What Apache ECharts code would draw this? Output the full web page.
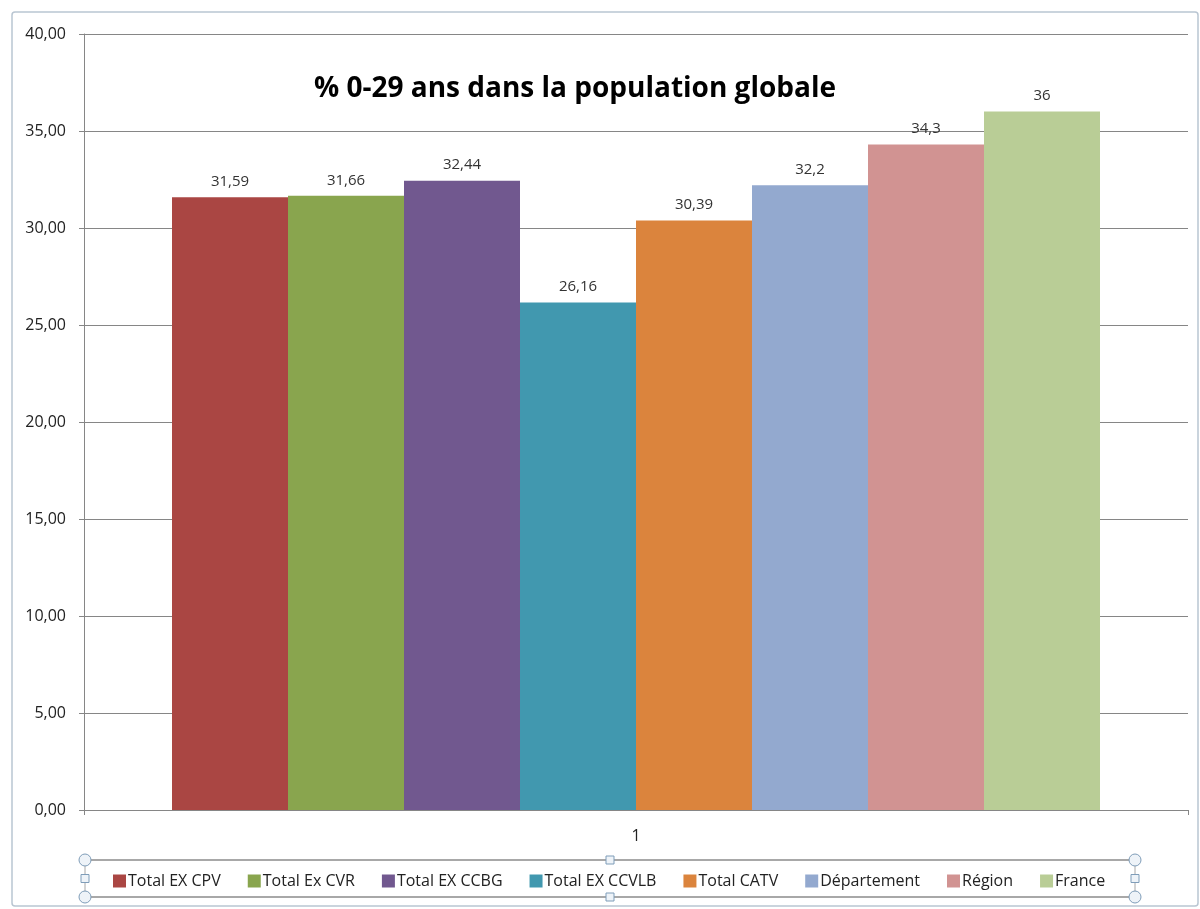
<!DOCTYPE html>
<html><head><meta charset="utf-8">
<script src="https://cdn.jsdelivr.net/npm/echarts@6/dist/echarts.min.js"></script>
<style>html,body{margin:0;padding:0;background:#fff}#c{width:1200px;height:909px}</style>
</head><body><div id="c"></div>
<script>
const titleText = '% 0-29 ans dans la population globale';
const categories = ['1'];
const seriesNames = ['Total EX CPV','Total Ex CVR','Total EX CCBG','Total EX CCVLB','Total CATV','Département','Région','France'];
const seriesValues = [31.59, 31.66, 32.44, 26.16, 30.39, 32.2, 34.3, 36];
const seriesColors = ['#AA4643','#89A54E','#71588F','#4198AF','#DB843D','#93A9CF','#D19392','#B9CD96'];
const yMin = 0, yMax = 40, yStep = 5;

const FONT = '"Open Sans", sans-serif';
const fmt = v => String(v).replace('.', ',');

const chart = echarts.init(document.getElementById('c'), null, {renderer:'canvas'});
const series = seriesNames.map((n,i)=>({
  name:n, type:'bar', data:[seriesValues[i]], barWidth:116, barGap:'0%',
  itemStyle:{color:seriesColors[i]},
  label:{show:true, position:'top', distance:8, color:'#333', fontFamily:FONT, fontSize:15,
    formatter:p=>fmt(p.value)}
}));

const lx0 = 85, lx1 = 1135, ly0 = 860, ly1 = 897, lym = (ly0+ly1)/2, lxm = (lx0+lx1)/2;
const handleStroke = '#7f9db9';
const circ = (x,y)=>({type:'circle', shape:{cx:x, cy:y, r:6}, style:{fill:'#eef3f8', stroke:handleStroke, lineWidth:1}, z:10});
const sq = (x,y)=>({type:'rect', shape:{x:x-4, y:y-4, width:8, height:8}, style:{fill:'#eef3f8', stroke:handleStroke, lineWidth:1}, z:10});

chart.setOption({
  animation:false,
  backgroundColor:'#fff',
  title:{text:titleText, left:570, top:70, textAlign:'center',
    textStyle:{fontFamily:FONT, fontSize:28, fontWeight:'bold', color:'#000'}},
  grid:{left:84, right:12, top:34, bottom:99, containLabel:false},
  legend:{data:seriesNames, left:108, top:868, itemWidth:13, itemHeight:13, itemGap:27,
    icon:'rect', textStyle:{fontFamily:FONT, fontSize:16, color:'#222', padding:[0,0,0,-3]}},
  xAxis:{type:'category', data:categories,
    axisLine:{lineStyle:{color:'#868686'}},
    axisTick:{show:true, length:5, lineStyle:{color:'#868686'}},
    axisLabel:{fontFamily:FONT, fontSize:16, color:'#222', margin:18}},
  yAxis:{type:'value', min:yMin, max:yMax, interval:yStep,
    axisLine:{show:true, lineStyle:{color:'#868686'}},
    axisTick:{show:true, length:5, lineStyle:{color:'#868686'}},
    splitLine:{lineStyle:{color:'#868686'}},
    axisLabel:{fontFamily:FONT, fontSize:16, color:'#222', margin:18,
      formatter:v=>v.toFixed(2).replace('.', ',')}},
  graphic:[
    {type:'rect', shape:{x:12, y:12, width:1186, height:894, r:3}, style:{fill:'none', stroke:'#b9c6d2', lineWidth:1.5}, z:-1},
    {type:'line', shape:{x1:lx0, y1:ly0, x2:lx1, y2:ly0}, style:{stroke:'#a8a8a8', lineWidth:2}},
    {type:'line', shape:{x1:lx0, y1:ly1, x2:lx1, y2:ly1}, style:{stroke:'#a8a8a8', lineWidth:2}},
    {type:'line', shape:{x1:lx0, y1:ly0, x2:lx0, y2:ly1}, style:{stroke:'#a8a8a8', lineWidth:1}},
    {type:'line', shape:{x1:lx1, y1:ly0, x2:lx1, y2:ly1}, style:{stroke:'#a8a8a8', lineWidth:1}},
    circ(lx0,ly0), circ(lx1,ly0), circ(lx0,ly1), circ(lx1,ly1),
    sq(lxm,ly0), sq(lxm,ly1), sq(lx0,lym), sq(lx1,lym)
  ],
  series
});
</script></body></html>
